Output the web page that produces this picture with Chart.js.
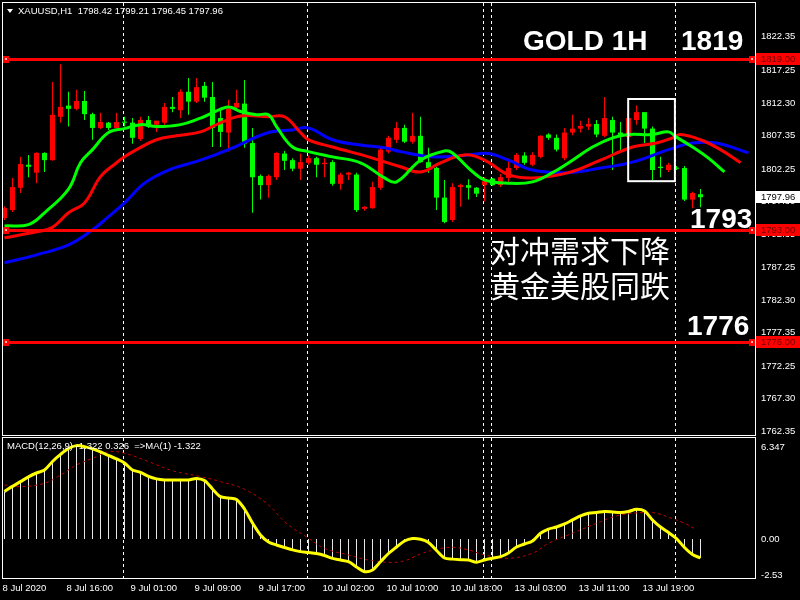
<!DOCTYPE html>
<html>
<head>
<meta charset="utf-8">
<title>XAUUSD H1</title>
<script src="https://cdn.jsdelivr.net/npm/chart.js@4.4.1/dist/chart.umd.min.js"></script>
<style>
    html, body { margin: 0; padding: 0; background: #000; }
    #wrap { position: relative; width: 800px; height: 600px; background: #000; overflow: hidden; }
    #priceBox { position: absolute; left: 0; top: 0; width: 800px; height: 437px; }
    #macdBox { position: absolute; left: 0; top: 437px; width: 800px; height: 163px; }
</style>
</head>
<body>
<div id="wrap">
    <div id="priceBox"><canvas id="prixChart"></canvas></div>
    <div id="macdBox"><canvas id="macdChart"></canvas></div>
</div>
<script>
// Bougies H1 (OHLC)
var openP = [1794.8,1796.0,1799.4,1802.9,1801.7,1804.7,1803.6,1810.2,1811.9,1811.4,
    1812.6,1810.6,1808.5,1809.3,1808.5,1809.4,1809.3,1806.8,1809.7,1809.0,
    1809.3,1811.7,1811.2,1814.0,1812.5,1814.9,1813.2,1810.0,1807.8,1811.6,
    1812.2,1806.2,1801.2,1799.8,1801.0,1804.6,1803.6,1802.3,1803.2,1803.9,
    1803.0,1803.3,1800.0,1801.4,1801.4,1796.2,1796.3,1799.4,1804.9,1806.7,
    1808.5,1806.4,1807.3,1803.3,1802.4,1797.9,1794.5,1799.5,1799.8,1799.4,
    1799.8,1800.8,1799.8,1800.9,1802.4,1804.3,1802.9,1804.1,1807.5,1807.0,
    1803.9,1807.8,1808.4,1808.7,1809.1,1807.3,1809.7,1807.8,1807.1,1809.7,
    1810.9,1808.4,1802.6,1802.1,1802.4,1802.4,1797.6,1798.42];
var highP = [1796.6,1800.9,1804.1,1804.4,1804.8,1804.8,1815.5,1818.2,1814.0,1814.3,
    1814.1,1810.8,1810.8,1809.4,1810.8,1810.2,1810.0,1810.2,1810.3,1809.6,
    1812.3,1813.2,1814.4,1816.1,1816.1,1815.5,1815.5,1811.3,1812.8,1814.3,
    1815.8,1808.5,1801.4,1801.4,1804.8,1805.0,1803.9,1804.6,1804.3,1804.1,
    1803.9,1803.6,1801.7,1801.8,1801.7,1796.6,1800.3,1805.6,1807.3,1809.4,
    1809.0,1810.8,1810.2,1805.5,1802.6,1800.6,1800.1,1800.0,1800.7,1799.5,
    1801.0,1800.9,1801.5,1803.9,1804.7,1804.8,1804.8,1807.4,1807.7,1807.5,
    1808.5,1810.5,1809.6,1810.0,1809.7,1813.2,1810.2,1809.4,1810.8,1811.9,
    1810.9,1808.7,1804.1,1803.2,1802.7,1802.7,1798.8,1799.21];
var lowP = [1794.5,1795.7,1798.6,1801.0,1800.1,1801.8,1803.5,1809.3,1808.7,1811.2,
    1809.7,1806.7,1808.3,1808.2,1808.5,1808.7,1806.1,1806.5,1808.5,1807.9,
    1809.0,1810.9,1810.0,1810.5,1812.3,1812.5,1805.6,1805.6,1804.9,1811.3,
    1805.5,1795.6,1797.6,1797.9,1800.6,1802.1,1801.9,1800.6,1802.9,1801.0,
    1801.0,1799.7,1799.1,1800.6,1795.7,1795.9,1796.2,1799.1,1804.6,1806.2,
    1806.2,1806.1,1803.2,1801.7,1796.0,1794.0,1794.2,1796.5,1797.6,1798.0,
    1797.3,1799.7,1799.5,1800.3,1802.1,1802.9,1802.7,1803.9,1806.7,1804.9,
    1803.6,1807.4,1807.8,1808.2,1807.1,1807.1,1802.1,1804.7,1806.8,1809.0,
    1806.2,1800.6,1801.0,1801.8,1802.1,1797.4,1796.3,1796.45];
var closeP = [1796.3,1799.5,1803.0,1802.6,1804.7,1803.6,1810.5,1811.7,1811.4,1812.6,
    1810.6,1808.5,1809.4,1808.5,1809.4,1809.3,1807.0,1809.7,1808.7,1809.6,
    1811.7,1811.4,1814.0,1812.5,1814.7,1813.1,1808.5,1807.9,1811.4,1812.3,
    1806.1,1801.0,1799.8,1801.2,1804.7,1803.5,1802.3,1803.3,1803.9,1802.9,
    1803.2,1800.0,1801.4,1801.7,1796.0,1796.5,1799.5,1805.2,1807.0,1808.5,
    1806.4,1807.3,1803.3,1802.4,1797.9,1794.2,1799.5,1799.8,1799.4,1798.5,
    1800.4,1799.8,1801.0,1802.4,1804.4,1803.2,1804.4,1807.3,1807.0,1805.2,
    1807.8,1808.4,1808.8,1809.1,1807.5,1810.0,1807.8,1807.3,1810.0,1810.9,
    1808.4,1802.1,1802.4,1802.9,1802.3,1797.6,1798.6,1797.96];

// Moyennes mobiles (rapide verte, moyenne rouge, lente bleue) : index de bougie / valeur
var greenMaBar = [0,3,5,8,9.5,11,13,15,17,19,22,24.5,26,28,29.5,31.5,33,34,36,38,41,44.5,47.5,49,
    52,55,56,58,60,63,66,68.5,71,73.5,76,78,81,83,84,86,88,90];
var greenMaVal = [1793.6,1793.8,1795.6,1799.2,1803.2,1805.2,1807.8,1808.4,1809.0,1808.7,1809.0,1810.0,
    1810.8,1811.7,1811.0,1810.5,1810.5,1808.7,1805.6,1804.9,1804.1,1803.2,1800.9,1800.3,
    1803.6,1805.0,1804.7,1802.4,1800.6,1800.1,1800.3,1801.7,1803.6,1805.6,1807.0,1807.5,
    1807.5,1807.9,1807.1,1805.6,1803.9,1801.8];
var redMaBar = [0,4,6,8,10,12,14,15,16.5,19,21.5,24.5,26.5,29.5,33,35,37,38,41,45.5,49.5,52,
    54.5,57.5,60,63,66,70.5,74.5,78.5,81.5,83.5,84.5,87,89.5,92];
var redMaVal = [1791.8,1792.7,1793.4,1795.6,1797.1,1801.1,1803.2,1804.1,1805.2,1806.7,1807.3,1807.9,
    1809.0,1810.3,1810.2,1810.2,1807.8,1806.7,1805.6,1804.1,1802.6,1801.8,1803.2,1804.4,
    1803.6,1801.4,1800.9,1801.7,1803.6,1805.6,1806.2,1807.0,1807.5,1806.7,1805.2,1803.2];
var blueMaBar = [0,4,8,11,13,15,17.5,20.5,24.5,28,33,36,38,41,44.5,47.5,49.5,53.5,58,60.5,63,66,
    70.5,74.5,78.5,83,86,89,93];
var blueMaVal = [1788.0,1789.2,1790.7,1793.0,1795.0,1797.1,1800.1,1802.1,1803.6,1805.2,1807.8,1808.2,
    1808.5,1806.7,1805.9,1805.5,1804.9,1804.1,1804.4,1804.6,1803.6,1802.1,1801.7,1802.4,
    1803.3,1805.2,1806.2,1806.2,1804.7];

// MACD (histogramme + MA(1) jaune) et signal pointillé
var macdVal = [3.30,3.65,3.98,4.31,4.58,4.79,5.38,5.87,6.28,6.48,
    6.41,6.25,6.04,5.80,5.56,5.28,4.79,4.63,4.34,4.17,
    4.10,4.10,4.10,4.10,4.20,4.06,3.47,2.94,2.85,2.74,
    2.08,1.11,0.28,-0.21,-0.42,-0.59,-0.76,-0.88,-0.94,-1.01,
    -1.15,-1.35,-1.46,-1.58,-1.94,-2.27,-2.15,-1.58,-1.01,-0.56,
    -0.14,0.03,-0.02,-0.24,-0.80,-1.32,-1.40,-1.44,-1.46,-1.62,
    -1.46,-1.34,-1.23,-0.97,-0.56,-0.35,-0.14,0.40,0.69,0.83,
    1.04,1.32,1.60,1.79,1.83,1.91,1.88,1.84,1.91,2.06,
    1.94,1.32,0.83,0.45,0.03,-0.59,-1.08,-1.32];
var signalBar = [0,2,5,7,9,11,13,15,18,21,24.5,27,30,33,35,38,40,43,46,49.5,52,53.7,56,58,60,63,
    66,68,71,74.5,76.5,78.5,81,83,85,86.5];
var signalVal = [3.75,3.63,3.87,4.44,5.14,5.60,6.06,5.95,5.37,4.74,4.33,3.98,3.45,2.36,1.20,0.05,
    -0.65,-1.11,-1.51,-1.58,-1.04,-0.76,-0.58,-0.76,-1.11,-1.34,-0.99,-0.30,0.40,1.20,1.60,
    1.78,1.83,1.51,1.09,0.63];

// Axes
var priceTicks = [1822.35,1817.25,1812.30,1807.35,1802.25,1797.30,1792.35,1787.25,1782.30,1777.35,1772.25,1767.30,1762.35];
var macdTicks = [6.347, 0, -2.53];
var macdTickText = ['6.347', '0.00', '-2.53'];
var timeIdx = [0,8,16,24,32,40,48,56,64,72,80];
var timeText = ['8 Jul 2020','8 Jul 16:00','9 Jul 01:00','9 Jul 09:00','9 Jul 17:00','10 Jul 02:00',
    '10 Jul 10:00','10 Jul 18:00','13 Jul 03:00','13 Jul 11:00','13 Jul 19:00'];
var separatorIdx = [15, 38, 60, 61, 84];

// Niveaux horizontaux et zone encadrée
var levels = [1819, 1793, 1776];
var levelText = ['1819', '1793', '1776'];
var boxBars = [77.96, 83.8];
var boxPrices = [1812.9, 1800.4];
var lastPrice = 1797.96;

document.addEventListener("DOMContentLoaded", function () {
    try {
        var axisFont = { family: "'Liberation Sans', Arial, sans-serif", size: 9.5 };
        var xMin = -0.1875, xMax = 93.8125;

        var bodies = [], wicks = [], couleurs = [];
        for (var i = 0; i < openP.length; i++) {
            bodies.push({ x: i, y: [openP[i], closeP[i]] });
            wicks.push({ x: i, y: [lowP[i], highP[i]] });
            // rouge = hausse, vert = baisse
            couleurs.push(closeP[i] >= openP[i] ? '#ff0000' : '#00ff00');
        }
        function pts(bars, vals) {
            return bars.map(function (b, k) { return { x: b, y: vals[k] }; });
        }
        var macdPts = macdVal.map(function (v, k) { return { x: k, y: v }; });

        // pas de marge automatique autour des axes
        function noPad(s) {
            s.paddingTop = 0; s.paddingBottom = 0; s.paddingLeft = 0; s.paddingRight = 0;
        }

        // cadre blanc + séparateurs pointillés
        function drawFrame(chart) {
            var a = chart.chartArea, c = chart.ctx, xs = chart.scales.x;
            c.save();
            c.strokeStyle = '#ffffff';
            c.lineWidth = 1;
            c.setLineDash([3, 3]);
            separatorIdx.forEach(function (s) {
                var px = xs.getPixelForValue(s - 0.125);
                c.beginPath();
                c.moveTo(px, a.top);
                c.lineTo(px, a.bottom);
                c.stroke();
            });
            c.setLineDash([]);
            c.strokeRect(a.left - 0.5, a.top - 0.5, a.right - a.left + 1, a.bottom - a.top + 1);
            c.restore();
        }
        var fondNoir = {
            id: 'fondNoir',
            beforeDraw: function (chart) {
                var c = chart.ctx;
                c.save();
                c.fillStyle = '#000000';
                c.fillRect(0, 0, chart.width, chart.height);
                c.restore();
            }
        };

        var prixDecor = {
            id: 'prixDecor',
            beforeDatasetsDraw: function (chart) { drawFrame(chart); },
            afterDraw: function (chart) {
                var a = chart.chartArea, c = chart.ctx, xs = chart.scales.x, ys = chart.scales.y;
                c.save();
                // lignes horizontales rouges
                levels.forEach(function (lv) {
                    var py = Math.round(ys.getPixelForValue(lv)) + 0.5;
                    c.strokeStyle = '#ff0000';
                    c.lineWidth = 3;
                    c.beginPath();
                    c.moveTo(a.left, py);
                    c.lineTo(a.right, py);
                    c.stroke();
                    c.fillStyle = '#ff0000';
                    c.fillRect(a.left, py - 3.5, 6, 7);
                    c.fillRect(a.right - 6, py - 3.5, 6, 7);
                    c.fillStyle = '#ffb0b0';
                    c.fillRect(a.left + 2, py - 1.5, 2, 2);
                    c.fillRect(a.right - 4, py - 1.5, 2, 2);
                    c.fillStyle = '#ff0000';
                    c.fillRect(a.right + 1, py - 6.5, 44, 12);
                    c.fillStyle = '#6e0000';
                    c.font = "9.5px 'Liberation Sans', Arial, sans-serif";
                    c.textBaseline = 'middle';
                    c.textAlign = 'left';
                    c.fillText(lv.toFixed(2), a.right + 6, py);
                });
                // étiquette du dernier prix
                var lp = Math.round(ys.getPixelForValue(lastPrice));
                c.fillStyle = '#ffffff';
                c.fillRect(a.right + 1, lp - 6, 44, 12);
                c.fillStyle = '#000000';
                c.fillText(lastPrice.toFixed(2), a.right + 6, lp);

                // cadre blanc
                var bx0 = xs.getPixelForValue(boxBars[0]), bx1 = xs.getPixelForValue(boxBars[1]);
                var by0 = ys.getPixelForValue(boxPrices[0]), by1 = ys.getPixelForValue(boxPrices[1]);
                c.strokeStyle = '#ffffff';
                c.lineWidth = 2;
                c.strokeRect(bx0, by0, bx1 - bx0, by1 - by0);

                // en-tête
                c.fillStyle = '#ffffff';
                c.beginPath();
                c.moveTo(7, 9);
                c.lineTo(13, 9);
                c.lineTo(10, 13);
                c.closePath();
                c.fill();
                c.font = "9.5px 'Liberation Sans', Arial, sans-serif";
                c.textBaseline = 'middle';
                c.fillText('XAUUSD,H1  1798.42 1799.21 1796.45 1797.96', 18, 11);

                // textes
                c.font = "bold 28px 'Liberation Sans', Arial, sans-serif";
                c.textBaseline = 'alphabetic';
                c.fillText('GOLD 1H', 523, 50);
                c.fillText(levelText[0], 681, 50);
                c.fillText(levelText[1], 690, 228);
                c.fillText(levelText[2], 687, 335);
                c.font = "30px 'Noto Sans CJK SC', sans-serif";
                c.textBaseline = 'middle';
                c.fillText('对冲需求下降', 490, 251);
                c.fillText('黄金美股同跌', 490, 286);
                c.restore();
            }
        };

        var prixChart = new Chart(document.getElementById('prixChart'), {
            type: 'bar',
            data: {
                datasets: [
                    { type: 'line', label: 'MA rapide', data: pts(greenMaBar, greenMaVal), borderColor: '#00ff00',
                      borderWidth: 3, pointRadius: 0, tension: 0.4, order: 1 },
                    { type: 'line', label: 'MA moyenne', data: pts(redMaBar, redMaVal), borderColor: '#ff0000',
                      borderWidth: 3, pointRadius: 0, tension: 0.4, order: 2 },
                    { type: 'line', label: 'MA lente', data: pts(blueMaBar, blueMaVal), borderColor: '#0000ff',
                      borderWidth: 3, pointRadius: 0, tension: 0.4, order: 3 },
                    { type: 'bar', label: 'corps', data: bodies, backgroundColor: couleurs, grouped: false,
                      categoryPercentage: 1, barPercentage: 0.625, minBarLength: 1, order: 4 },
                    { type: 'bar', label: 'mèches', data: wicks, backgroundColor: couleurs, grouped: false,
                      categoryPercentage: 1, barPercentage: 0.125, order: 5 }
                ]
            },
            options: {
                responsive: true,
                maintainAspectRatio: false,
                animation: false,
                devicePixelRatio: 1,
                layout: { padding: { left: 3, top: 3, right: 0, bottom: 2 } },
                plugins: { legend: { display: false }, tooltip: { enabled: false } },
                scales: {
                    x: { type: 'linear', min: xMin, max: xMax, offset: false, display: false },
                    y: {
                        position: 'right',
                        min: 1761.8,
                        max: 1827.5,
                        afterFit: function (s) { s.width = 45; noPad(s); },
                        afterBuildTicks: function (s) {
                            s.ticks = priceTicks.map(function (v) { return { value: v }; });
                        },
                        ticks: {
                            color: '#ffffff',
                            font: axisFont,
                            padding: 6,
                            autoSkip: false,
                            callback: function (value) { return Number(value).toFixed(2); }
                        },
                        grid: { display: false, drawTicks: false },
                        border: { display: false }
                    }
                }
            },
            plugins: [fondNoir, prixDecor]
        });

        var macdDecor = {
            id: 'macdDecor',
            beforeDatasetsDraw: function (chart) { drawFrame(chart); },
            afterDraw: function (chart) {
                var c = chart.ctx;
                c.save();
                c.fillStyle = '#ffffff';
                c.font = "9.5px 'Liberation Sans', Arial, sans-serif";
                c.textBaseline = 'middle';
                c.textAlign = 'left';
                c.fillText('MACD(12,26,9) -1.322 0.326  =>MA(1) -1.322', 7, 9);
                c.restore();
            }
        };

        var macdChart = new Chart(document.getElementById('macdChart'), {
            type: 'bar',
            data: {
                datasets: [
                    { type: 'line', label: 'MA(1)', data: macdPts, borderColor: '#ffff00', borderWidth: 3,
                      pointRadius: 0, tension: 0.3, order: 1 },
                    { type: 'line', label: 'signal', data: pts(signalBar, signalVal), borderColor: '#c00000',
                      borderWidth: 1, borderDash: [3, 3], pointRadius: 0, tension: 0.4, order: 2 },
                    { type: 'bar', label: 'MACD', data: macdPts, backgroundColor: '#e8e8e8', grouped: false,
                      categoryPercentage: 1, barPercentage: 0.125, order: 3 }
                ]
            },
            options: {
                responsive: true,
                maintainAspectRatio: false,
                animation: false,
                devicePixelRatio: 1,
                layout: { padding: { left: 3, top: 1, right: 0, bottom: 0 } },
                plugins: { legend: { display: false }, tooltip: { enabled: false } },
                scales: {
                    x: {
                        type: 'linear',
                        min: xMin,
                        max: xMax,
                        offset: false,
                        afterFit: function (s) { s.height = 22; noPad(s); },
                        afterBuildTicks: function (s) {
                            // léger décalage : MT4 écrit l'heure un peu avant la bougie
                            s.ticks = timeIdx.map(function (v) { return { value: v - 0.25 }; });
                        },
                        ticks: {
                            color: '#ffffff',
                            font: axisFont,
                            padding: 5,
                            align: 'start',
                            autoSkip: false,
                            maxRotation: 0,
                            callback: function (value) {
                                var k = timeIdx.indexOf(Math.round(value));
                                return k >= 0 ? timeText[k] : '';
                            }
                        },
                        grid: { display: false, drawTicks: false },
                        border: { display: false }
                    },
                    y: {
                        position: 'right',
                        min: -2.71,
                        max: 7.01,
                        afterFit: function (s) { s.width = 45; noPad(s); },
                        afterBuildTicks: function (s) {
                            s.ticks = macdTicks.map(function (v) { return { value: v }; });
                        },
                        ticks: {
                            color: '#ffffff',
                            font: axisFont,
                            padding: 6,
                            autoSkip: false,
                            callback: function (value) {
                                var k = macdTicks.indexOf(value);
                                return k >= 0 ? macdTickText[k] : '';
                            }
                        },
                        grid: { display: false, drawTicks: false },
                        border: { display: false }
                    }
                }
            },
            plugins: [fondNoir, macdDecor]
        });
    } catch (error) {
        console.error("Erreur lors de la création du graphique :", error);
    }
});
</script>
</body>
</html>
